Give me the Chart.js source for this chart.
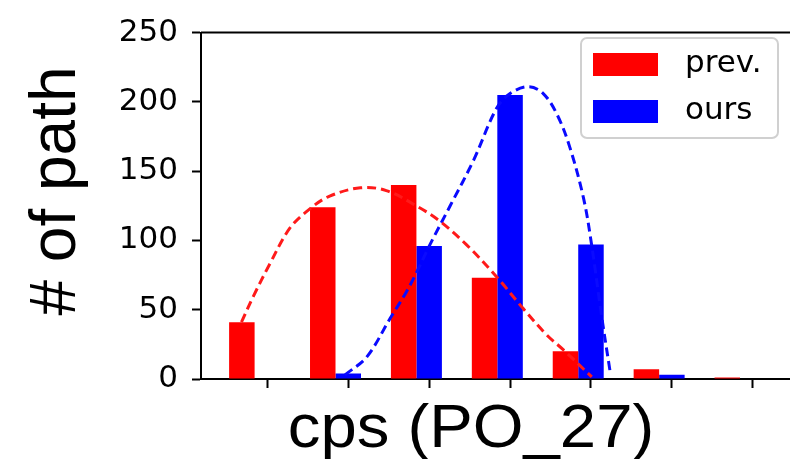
<!DOCTYPE html>
<html>
<head>
<meta charset="utf-8">
<script src="https://cdn.jsdelivr.net/npm/chart.js@4.4.1/dist/chart.umd.min.js"></script>
<style>
  html, body { margin: 0; padding: 0; background: #fff; }
</style>
</head>
<body>
<canvas id="pathChart" width="790" height="459"></canvas>
<script>
// bins and bar heights
const binIndex = [0, 1, 2, 3, 4, 5, 6];
const prevCounts = [41, 124, 140, 73, 20, 7, 1];
const oursCounts = [0, 4, 96, 205, 97, 3, 0];
const yTicks = [0, 50, 100, 150, 200, 250];

// dashed fit curves
const prevCurveX = [-0.32, -0.17, 0.03, 0.28, 0.53, 0.77, 1.15, 1.47, 1.87, 2.13, 2.46, 2.83, 3.16, 3.45, 3.66, 4.01];
const prevCurveY = [41, 60, 83, 109, 123, 132, 138, 136, 124, 114, 97, 74, 51, 32, 21, 1.5];
const oursCurveX = [0.96, 1.23, 1.52, 1.72, 1.87, 2.01, 2.26, 2.55, 2.83, 3.0, 3.23, 3.41, 3.58, 3.74, 3.91, 4.01, 4.13, 4.24];
const oursCurveY = [3, 16, 44, 63, 80, 97, 125, 158, 195, 206, 211, 206, 191, 167, 130, 96, 46, 4];

const xMin = -0.82;
const xMax = 6.46;
const barWidth = 25.5;
const prevShift = 0.315; // red bar sits one bar width left of the tick

function toPoints(xs, ys) {
  return xs.map((x, i) => ({ x: x, y: ys[i] }));
}

// top spine
const framePlugin = {
  id: "frame",
  afterDraw(chart) {
    const { ctx, chartArea } = chart;
    ctx.save();
    ctx.strokeStyle = "#000";
    ctx.lineWidth = 2;
    ctx.beginPath();
    ctx.moveTo(chartArea.left, chartArea.top);
    ctx.lineTo(chartArea.right, chartArea.top);
    ctx.stroke();
    ctx.restore();
  },
};

// axis titles
const titlesPlugin = {
  id: "titles",
  afterDraw(chart) {
    const ctx = chart.ctx;
    ctx.save();
    ctx.fillStyle = "#000";
    ctx.textAlign = "center";
    ctx.textBaseline = "alphabetic";

    ctx.save();
    ctx.font = '61px "Liberation Sans", Arial, sans-serif';
    ctx.translate(471, 447);
    ctx.scale(1.07, 1);
    ctx.fillText("cps (PO_27)", 0, 0);
    ctx.restore();

    ctx.font = '64px "Liberation Sans", Arial, sans-serif';
    ctx.translate(75, 191);
    ctx.rotate(-Math.PI / 2);
    ctx.fillText("# of path", 0, 0);
    ctx.restore();
  },
};

// legend box
const legendPlugin = {
  id: "boxLegend",
  afterDraw(chart) {
    const ctx = chart.ctx;
    const items = chart.data.datasets.filter((d) => d.type === "bar");
    ctx.save();
    ctx.beginPath();
    ctx.roundRect(581, 38, 197, 100, 6);
    ctx.fillStyle = "rgba(255,255,255,0.8)";
    ctx.fill();
    ctx.strokeStyle = "#d0d0d0";
    ctx.lineWidth = 2;
    ctx.stroke();

    ctx.font = '31px "DejaVu Sans", sans-serif';
    ctx.textBaseline = "middle";
    ctx.textAlign = "left";
    items.forEach((d, i) => {
      const y = 53 + i * 47;
      ctx.fillStyle = d.backgroundColor;
      ctx.fillRect(593, y, 65, 23);
      ctx.fillStyle = "#000";
      ctx.fillText(d.label, 685, y + 11);
    });
    ctx.restore();
  },
};

new Chart(document.getElementById("pathChart"), {
  data: {
    datasets: [
      {
        type: "bar",
        label: "prev.",
        data: toPoints(binIndex, prevCounts),
        xAxisID: "xPrev",
        backgroundColor: "#ff0000",
        grouped: false,
        maxBarThickness: barWidth,
        order: 2,
      },
      {
        type: "bar",
        label: "ours",
        data: toPoints(binIndex, oursCounts),
        xAxisID: "xOurs",
        backgroundColor: "#0000ff",
        grouped: false,
        maxBarThickness: barWidth,
        order: 2,
      },
      {
        type: "line",
        label: "prev. fit",
        data: toPoints(prevCurveX, prevCurveY),
        xAxisID: "x",
        borderColor: "#ff1a1a",
        borderWidth: 3,
        borderDash: [9, 5],
        pointRadius: 0,
        tension: 0.35,
        fill: false,
        order: 1,
      },
      {
        type: "line",
        label: "ours fit",
        data: toPoints(oursCurveX, oursCurveY),
        xAxisID: "x",
        borderColor: "#0a0aff",
        borderWidth: 3,
        borderDash: [9, 5],
        pointRadius: 0,
        tension: 0.35,
        fill: false,
        order: 1,
      },
    ],
  },
  options: {
    responsive: false,
    animation: false,
    layout: {
      padding: { top: 22, left: 0, right: 0, bottom: 0 },
    },
    plugins: {
      legend: { display: false },
      tooltip: { enabled: false },
    },
    scales: {
      x: {
        type: "linear",
        min: xMin,
        max: xMax,
        offset: false,
        afterBuildTicks: (scale) => {
          scale.ticks = binIndex.map((v) => ({ value: v }));
        },
        afterFit: (scale) => {
          scale.height = 80;
        },
        ticks: {
          callback: () => "",
        },
        grid: {
          offset: false,
          drawOnChartArea: false,
          drawTicks: true,
          tickLength: 9,
          tickWidth: 2,
          tickColor: "#000",
        },
        border: { display: true, color: "#000", width: 2 },
      },
      xPrev: {
        type: "linear",
        axis: "x",
        display: false,
        offset: false,
        min: xMin + prevShift,
        max: xMax + prevShift,
      },
      xOurs: {
        type: "linear",
        axis: "x",
        display: false,
        offset: false,
        min: xMin,
        max: xMax,
      },
      y: {
        min: 0,
        max: 250,
        afterBuildTicks: (scale) => {
          scale.ticks = yTicks.map((v) => ({ value: v }));
        },
        afterFit: (scale) => {
          scale.width = 201;
        },
        ticks: {
          color: "#000",
          padding: 14,
          font: { family: "DejaVu Sans", size: 31 },
        },
        grid: {
          drawOnChartArea: false,
          drawTicks: true,
          tickLength: 9,
          tickWidth: 2,
          tickColor: "#000",
        },
        border: { display: true, color: "#000", width: 2 },
      },
    },
  },
  plugins: [framePlugin, titlesPlugin, legendPlugin],
});
</script>
</body>
</html>
